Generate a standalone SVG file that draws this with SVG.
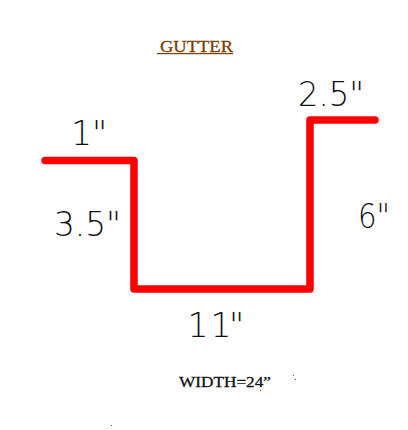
<svg xmlns="http://www.w3.org/2000/svg" width="408" height="430" viewBox="0 0 408 430">
<style>
.dim{font-family:"DejaVu Sans","Liberation Sans",sans-serif;font-weight:200;fill:#111;font-size:33px}
.ser{font-family:"Liberation Serif",serif}
.speck{fill:#7a3e00}
</style>
<rect width="408" height="430" fill="#fff"/>
<g id="gutter-profile"><path d="M45 160.5H134V289H310V120H375" fill="none" stroke="#f00" stroke-width="7.5" stroke-linecap="round" stroke-linejoin="round"/></g>
<g id="title"><text class="ser" x="160" y="52" font-size="17" fill="#7a3e00" stroke="#7a3e00" stroke-width="0.3" textLength="73" lengthAdjust="spacingAndGlyphs">GUTTER</text><rect x="157" y="53" width="76" height="1.2" fill="#7a3e00"/></g>
<g id="labels">
<text class="dim" x="71 92" y="145">1"</text>
<text class="dim" x="54" y="236" textLength="67" lengthAdjust="spacingAndGlyphs">3.5"</text>
<text class="dim" x="298" y="106" textLength="66" lengthAdjust="spacingAndGlyphs">2.5"</text>
<text class="dim" x="358" y="228" textLength="32" lengthAdjust="spacingAndGlyphs">6"</text>
<text class="dim" x="187.5 210.5 229" y="337">11"</text>
<text class="ser" x="179" y="387" font-size="15" fill="#111" stroke="#111" stroke-width="0.3" textLength="92" lengthAdjust="spacingAndGlyphs">WIDTH=24”</text>
</g>
<g id="specks"><rect class="speck" x="293" y="375" width="1" height="1"/><rect class="speck" x="295" y="379" width="1" height="1"/><rect class="speck" x="260" y="390" width="1" height="1"/><rect class="speck" x="111" y="425" width="1" height="1"/></g>
</svg>
